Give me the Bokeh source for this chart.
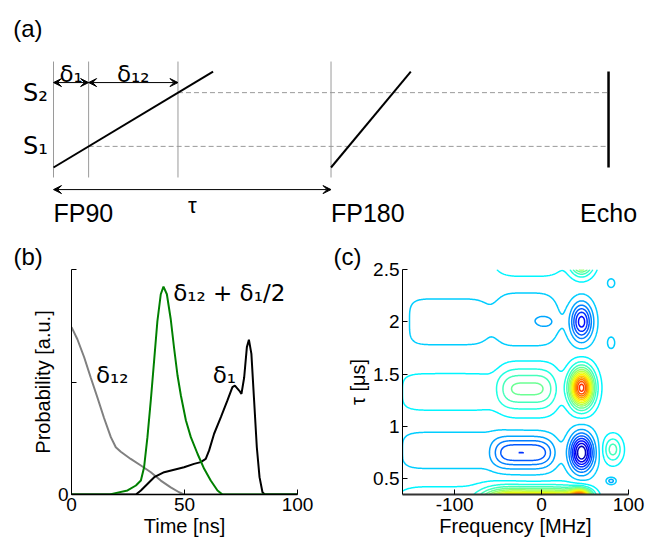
import numpy as np
from bokeh.plotting import figure
from bokeh.layouts import column, row
from bokeh.models import Range1d, Label, Arrow, VeeHead, FixedTicker, CustomJSTickFormatter
from bokeh.embed import file_html
from bokeh.resources import INLINE

FONT = "Liberation Sans"
GREEK = "DejaVu Sans"

# ---------------- (a) pulse-sequence schematic (time in units of tau) ----------------
pulse_labels = ["FP90", "FP180", "Echo"]
pulse_times = [0.0, 1.0, 2.0]
chirp_starts = [0.0, 1.0]
chirp_durations = [0.575, 0.2875]
sweep_range = [0.0, 1.0]
s_levels = [0.22, 0.78]
s_labels = ["S\u2081", "S\u2082"]
delta1_end = 0.1265
delta12_end = 0.4485
marker_times = [0.0, delta1_end, delta12_end, 1.0]

# ---------------- (b) probability distributions ----------------
t_delta12 = [0, 2.6, 5.6, 8.5, 11.5, 14.4, 17.4, 19.6, 21.8, 26.2, 30.7, 35.1, 39.5, 43.9, 47.6, 49.7, 100]
p_delta12 = [0.744, 0.69, 0.61, 0.52, 0.43, 0.34, 0.255, 0.21, 0.19, 0.158, 0.129, 0.099, 0.062, 0.032, 0.01, 0.0, 0.0]
t_delta1 = [0, 28.5, 30.7, 33.6, 36.6, 41.0, 45.4, 49.8, 54.2, 57.2, 59.4, 60.9, 63.1, 66.1, 69.0, 71.2,
            72.3, 74.2, 75.2, 76.4, 77.6, 78.5, 79.6, 80.8, 82.0, 83.2, 84.5, 85.5, 100]
p_delta1 = [0, 0, 0.018, 0.047, 0.077, 0.099, 0.11, 0.121, 0.136, 0.144, 0.158, 0.196, 0.27, 0.344, 0.418, 0.477,
            0.484, 0.462, 0.447, 0.52, 0.655, 0.688, 0.625, 0.418, 0.21, 0.077, 0.01, 0, 0]
t_sum = [0, 17.0, 18.9, 24.8, 28.5, 30.7, 32.1, 33.6, 35.1, 36.6, 38.0, 39.5, 40.7, 42.2, 43.9, 45.4, 46.9,
         48.4, 50.6, 52.8, 55.8, 58.7, 61.6, 64.6, 66.8, 100]
p_sum = [0, 0, 0.005, 0.018, 0.04, 0.062, 0.12, 0.255, 0.42, 0.60, 0.77, 0.89, 0.924, 0.89, 0.78, 0.65, 0.53,
         0.44, 0.33, 0.255, 0.18, 0.114, 0.062, 0.018, 0, 0]
b_xticks = [0, 50, 100]
b_yticks = [0, 0.5, 1]

# ---------------- (c) 2D map: features ----------------
blob_freq = [46, -20, -105, 46, -16, -105, 46, -18, 8, -108, -8, -100, 45, 80, 82, -15, 46, 80, 80]
blob_tau = [0.75, 0.75, 0.77, 1.37, 1.36, 1.33, 2.0, 2.02, 2.0, 2.0, 0.27, 0.30, 0.33, 0.48, 0.78, 2.62, 2.62, 1.8, 2.37]
blob_fwidth = [13, 34.5, 60, 13, 33, 60, 12, 38, 12, 48, 55, 70, 12, 5, 10, 38, 12, 6, 6]
blob_twidth = [0.17, 0.15, 0.2, 0.17, 0.2, 0.2, 0.17, 0.26, 0.06, 0.25, 0.12, 0.15, 0.07, 0.03, 0.12, 0.17, 0.14, 0.08, 0.06]
blob_fpow = [2, 4, 6, 2, 4, 6, 2, 4, 2, 6, 4, 6, 2, 2, 2, 4, 2, 2, 2]
blob_tpow = [2, 2, 4, 2, 2, 4, 2, 2, 2, 4, 2, 2, 2, 2, 2, 2, 2, 2, 2]
blob_amp = [-0.85, -0.45, -0.09, 1.3, 0.38, 0.09, -0.6, -0.14, -0.06, -0.09, 1.3, 0.1, 0.95, -0.2, 0.3, 0.2, 1.0, -0.08, -0.08]
c_xticks = [-100, 0, 100]
c_yticks = [0.5, 1, 1.5, 2, 2.5]
c_levels = [round(-0.85 + 0.1 * k, 2) for k in range(26)]
c_vmin, c_vmax = -0.9, 1.7


def jet(n):
    r = min(max(1.5 - abs(4 * n - 3), 0), 1)
    g = min(max(1.5 - abs(4 * n - 2), 0), 1)
    b = min(max(1.5 - abs(4 * n - 1), 0), 1)
    return "#%02x%02x%02x" % (int(r * 255), int(g * 255), int(b * 255))


def lab(p, **kw):
    kw.setdefault("text_color", "black")
    kw.setdefault("text_font", FONT)
    p.add_layout(Label(**kw))


# ================= panel (a) =================
pa = figure(width=648, height=234, x_range=Range1d(-0.191, 2.144), y_range=Range1d(-0.698, 1.74),
            output_backend="svg", toolbar_location=None, x_axis_location=None, y_axis_location=None,
            min_border=0, outline_line_color=None)
pa.grid.visible = False

pa.segment(x0=marker_times, y0=[-0.104] * 4, x1=marker_times, y1=[1.104] * 4,
           line_color="#9a9a9a", line_width=1)
pa.segment(x0=[delta1_end, delta12_end], y0=s_levels, x1=[pulse_times[2]] * 2, y1=s_levels,
           line_color="#999999", line_width=1, line_dash="5 3")
pa.multi_line(xs=[[s, s + d] for s, d in zip(chirp_starts, chirp_durations)],
              ys=[sweep_range, sweep_range], line_color="black", line_width=2)
pa.segment(x0=[pulse_times[2]], y0=[sweep_range[0]], x1=[pulse_times[2]], y1=[sweep_range[1]],
           line_color="black", line_width=2.5)


def dbl_arrow(p, x0, x1, y):
    p.add_layout(Arrow(x_start=x0, x_end=x1, y_start=y, y_end=y, line_width=1, line_color="black",
                       start=VeeHead(size=8, line_color="black", fill_color="black", line_width=1),
                       end=VeeHead(size=8, line_color="black", fill_color="black", line_width=1)))


dbl_arrow(pa, 0.0, delta1_end, 0.885)
dbl_arrow(pa, delta1_end, delta12_end, 0.885)
dbl_arrow(pa, pulse_times[0], pulse_times[1], -0.23)

lab(pa, x=-0.145, y=1.45, text="(a)", text_font_size="24px", text_baseline="middle")
for lv, lb in zip(s_levels, s_labels):
    lab(pa, x=-0.02, y=lv, text=lb, text_font=GREEK, text_font_size="24px", text_align="right",
        text_baseline="middle")
lab(pa, x=delta1_end / 2, y=0.97, text="\u03b4\u2081", text_font=GREEK, text_font_size="23px",
    text_align="center", text_baseline="alphabetic")
lab(pa, x=(delta1_end + delta12_end) / 2, y=0.97, text="\u03b4\u2081\u2082", text_font=GREEK,
    text_font_size="23px", text_align="center", text_baseline="alphabetic")
lab(pa, x=0.5, y=-0.40, text="\u03c4", text_font_size="22px", text_align="center", text_baseline="middle")
for t, lb, al in zip(pulse_times, pulse_labels, ["left", "left", "center"]):
    lab(pa, x=t, y=-0.47, text=lb, text_font_size="25px", text_align=al, text_baseline="middle")


def style_axes(p, panel_label, label_offset):
    p.grid.visible = False
    p.outline_line_color = None
    p.axis.major_tick_in = 5
    p.axis.major_tick_out = 0
    p.axis.minor_tick_line_color = None
    p.axis.axis_line_color = "black"
    p.axis.major_tick_line_color = "black"
    p.axis.major_label_text_font = FONT
    p.axis.major_label_text_font_size = "19px"
    p.axis.major_label_text_color = "black"
    p.axis.major_label_standoff = 3
    p.axis.axis_label_text_font = FONT
    p.axis.axis_label_text_font_size = "20px"
    p.axis.axis_label_text_font_style = "normal"
    p.axis.axis_label_text_color = "black"
    p.axis.axis_label_standoff = 1
    p.title.text = panel_label
    p.title.align = "left"
    p.title.offset = label_offset
    p.title.standoff = 0
    p.title.text_font = FONT
    p.title.text_font_size = "24px"
    p.title.text_font_style = "normal"
    p.title.text_color = "black"


# ================= panel (b) =================
pb = figure(frame_width=226, frame_height=225, x_range=Range1d(0, 100), y_range=Range1d(0, 1),
            min_border_left=71, min_border_right=23, min_border_top=35, min_border_bottom=50,
            output_backend="svg", toolbar_location=None,
            x_axis_label="Time [ns]", y_axis_label="Probability [a.u.]")
style_axes(pb, "(b)", -58)
pb.xaxis.ticker = FixedTicker(ticks=b_xticks)
pb.yaxis.ticker = FixedTicker(ticks=b_yticks)
pb.xaxis.formatter = CustomJSTickFormatter(code="return String(tick);")
pb.yaxis.formatter = CustomJSTickFormatter(code="return tick == 0 ? '0' : '';")
pb.xaxis.axis_line_width = 1.5
pb.line(t_delta12, p_delta12, line_color="#808080", line_width=2)
pb.line(t_delta1, p_delta1, line_color="black", line_width=2)
pb.line(t_sum, p_sum, line_color="#008000", line_width=2)
lab(pb, x=45, y=0.895, text="\u03b4\u2081\u2082 + \u03b4\u2081/2", text_font=GREEK,
    text_font_size="23px", text_baseline="alphabetic")
lab(pb, x=62.5, y=0.53, text="\u03b4\u2081", text_font=GREEK, text_font_size="23px",
    text_baseline="alphabetic")
lab(pb, x=10.8, y=0.53, text="\u03b4\u2081\u2082", text_font=GREEK, text_font_size="23px",
    text_baseline="alphabetic")

# ================= panel (c) =================
pc = figure(frame_width=226, frame_height=225, x_range=Range1d(-160, 100), y_range=Range1d(0.35, 2.5),
            min_border_left=82, min_border_right=20, min_border_top=35, min_border_bottom=50,
            output_backend="svg", toolbar_location=None,
            x_axis_label="Frequency [MHz]", y_axis_label="\u03c4 [\u03bcs]")
style_axes(pc, "(c)", -69)
pc.xaxis.ticker = FixedTicker(ticks=c_xticks)
pc.yaxis.ticker = FixedTicker(ticks=c_yticks)
pc.xaxis.formatter = CustomJSTickFormatter(code="return String(tick);")
pc.yaxis.formatter = CustomJSTickFormatter(code="return String(tick);")
pc.xaxis.axis_line_width = 2
pc.xaxis.axis_line_color = "#333333"

freq_grid = np.linspace(-160, 100, 261)
tau_grid = np.linspace(0.35, 2.5, 216)
F, T = np.meshgrid(freq_grid, tau_grid)
Z = np.zeros_like(F)
for f0, t0, wf, wt, pf, pt, a in zip(blob_freq, blob_tau, blob_fwidth, blob_twidth, blob_fpow, blob_tpow, blob_amp):
    Z += a * np.exp(-np.abs((F - f0) / wf) ** pf - np.abs((T - t0) / wt) ** pt)
colors = [jet((lv - c_vmin) / (c_vmax - c_vmin)) for lv in c_levels]
pc.contour(freq_grid, tau_grid, Z, c_levels, line_color=colors, line_width=1.5)

layout = column(pa, row(pb, pc))
open("out.html", "w").write(file_html(layout, INLINE))
